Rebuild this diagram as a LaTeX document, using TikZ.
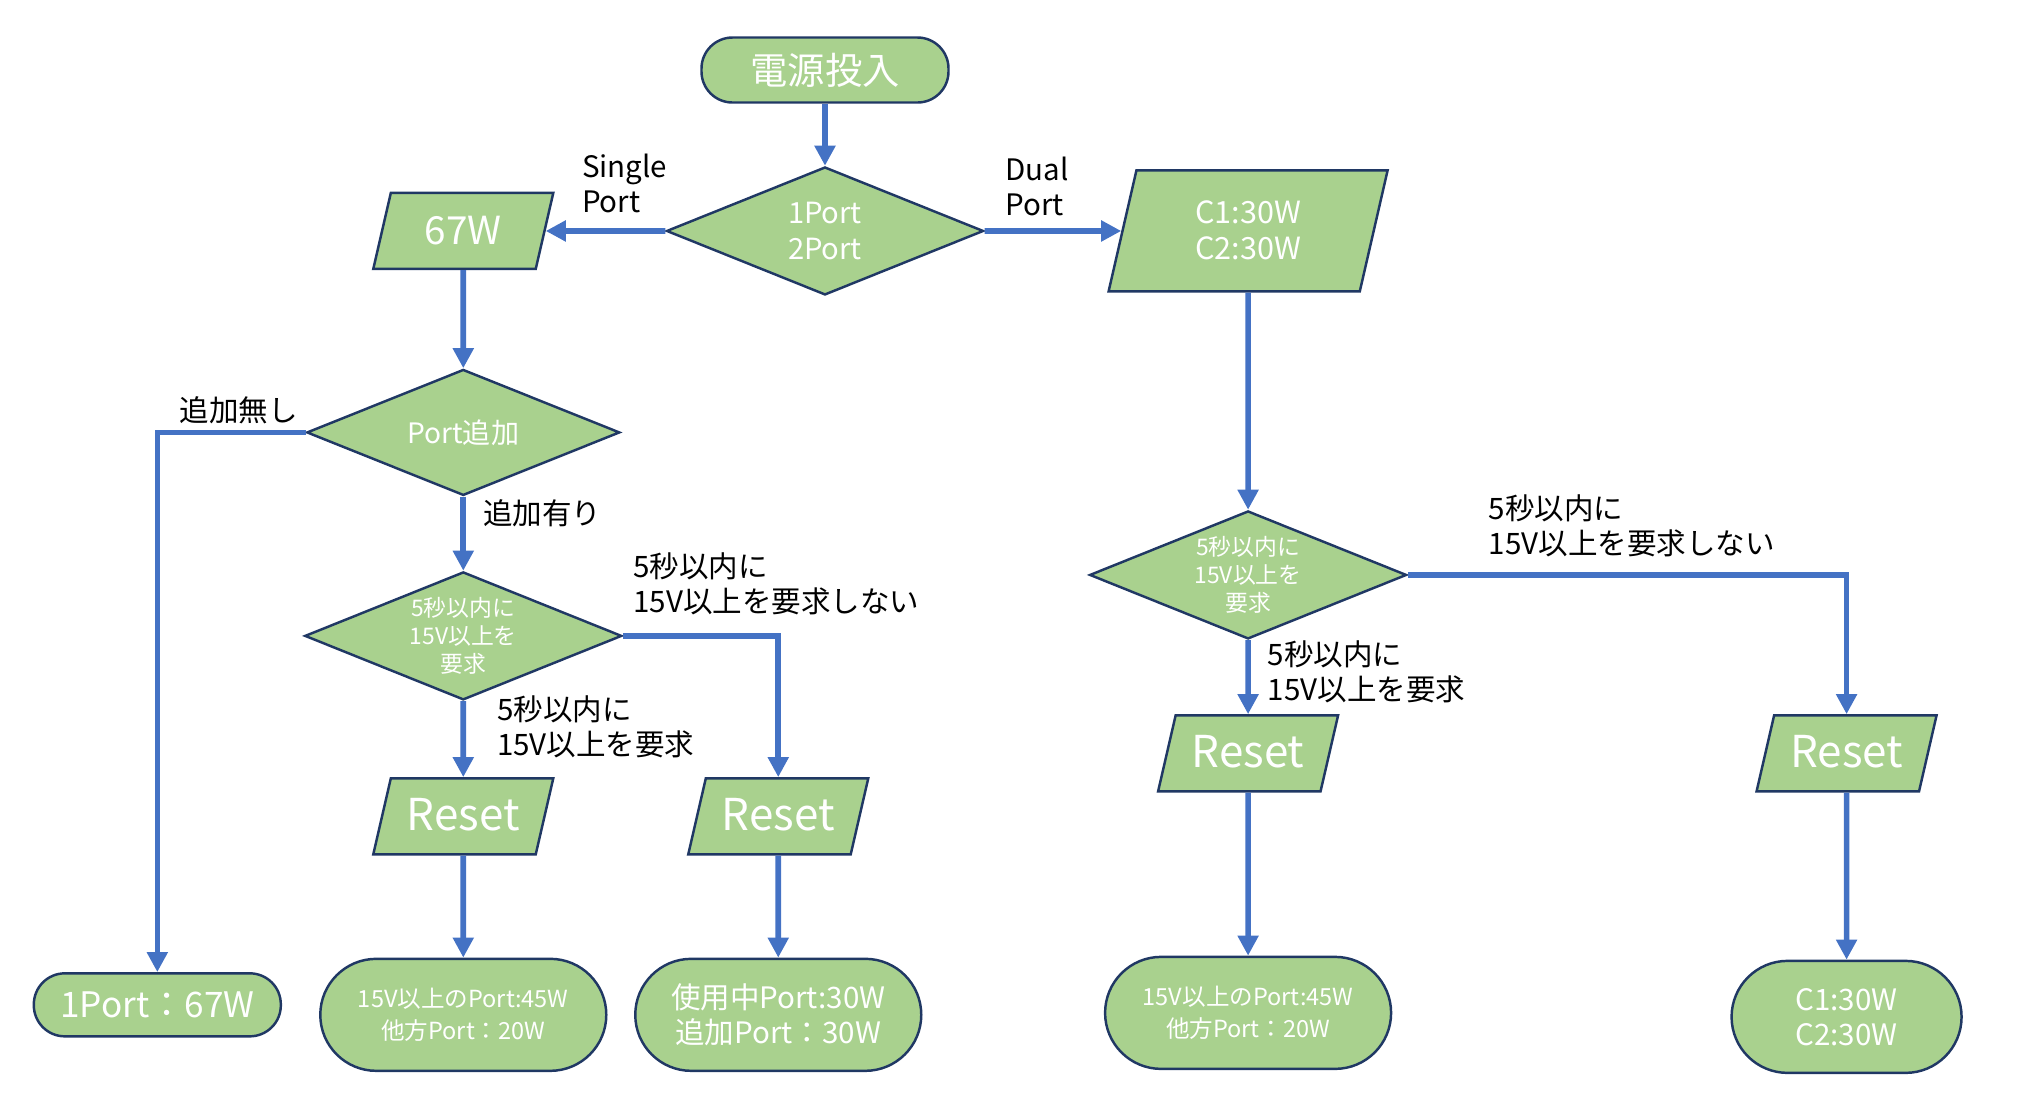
\documentclass[tikz,border=0pt]{standalone}
\usepackage{fontspec}
\setmainfont{Noto Sans CJK JP}
\usepackage{tikz}
\usetikzlibrary{shapes.geometric, arrows.meta, positioning}
\definecolor{leaf}{HTML}{A9D18E}
\definecolor{navy}{HTML}{203864}
\definecolor{flow}{HTML}{4472C4}

\begin{document}
\begin{tikzpicture}[node distance=1cm, auto,
        term/.style={draw=navy, line width=0.7pt, fill=leaf, rectangle, rounded corners=0.31cm, text=white, align=center, inner sep=0pt},
        decision/.style={draw=navy, line width=0.7pt, fill=leaf, diamond, aspect=2.5, minimum width=3.17cm, minimum height=1.28cm, text=white, align=center, inner sep=0pt},
        io/.style={draw=navy, line width=0.7pt, fill=leaf, trapezium, trapezium left angle=77, trapezium right angle=103, trapezium stretches body, minimum width=1.8cm, minimum height=0.76cm, text=white, align=center, inner xsep=0pt, inner ysep=0.24cm, text height=0.28cm, text depth=0cm, font=\fontsize{11pt}{13pt}\selectfont},
        resetbox/.style={io, font=\fontsize{12.5pt}{14pt}\selectfont},
        lbl/.style={inner sep=0pt, align=left, text=black, font=\fontsize{8.4pt}{10pt}\selectfont},
        line/.style={draw=flow, line width=1.6pt, -{Triangle[length=0.2cm, width=0.2cm]}}]

        \useasboundingbox (0,0) rectangle (20.43,-11.10);

        % ノード定義
        \node [term, minimum width=2.47cm, minimum height=0.65cm, font=\fontsize{10.6pt}{12pt}\selectfont] (start) at (8.25,-0.70) {電源投入};
        \node [decision, below=0.62cm of start, font=\fontsize{8.3pt}{10pt}\selectfont] (ports) {1Port\\2Port};
        \node [io, left=1.195cm of ports] (single) {67W};
        \node [io, right=1.365cm of ports, minimum width=2.79cm, minimum height=1.21cm, text height=0.565cm, inner ysep=0.32cm, font=\fontsize{8.7pt}{10.3pt}\selectfont] (dual) {C1:30W\\C2:30W};

        \node [decision, below=0.98cm of single, minimum width=3.13cm, minimum height=1.26cm, font=\fontsize{8pt}{10pt}\selectfont] (addport) {Port追加};
        \node [decision, below=0.74cm of addport, font=\fontsize{6.5pt}{8pt}\selectfont] (reqA) {5秒以内に\\15V以上を\\要求};
        \node [resetbox, below=0.76cm of reqA] (resetA) {Reset};
        \node [resetbox, right=1.50cm of resetA] (resetB) {Reset};
        \node [term, below=1.02cm of resetA, minimum width=2.86cm, minimum height=1.12cm, rounded corners=0.56cm, font=\fontsize{6.7pt}{9pt}\selectfont] (outA) {15V以上のPort:45W\\他方Port：20W};
        \node [term, below=1.02cm of resetB, minimum width=2.86cm, minimum height=1.12cm, rounded corners=0.56cm, font=\fontsize{8.4pt}{10pt}\selectfont] (outB) {使用中Port:30W\\追加Port：30W};
        \node [term, left=0.37cm of outA, yshift=0.1cm, minimum width=2.47cm, minimum height=0.63cm, font=\fontsize{10pt}{12pt}\selectfont] (outSingle) {1Port：67W};

        \node [decision, below=2.17cm of dual, font=\fontsize{6.5pt}{8pt}\selectfont] (reqB) {5秒以内に\\15V以上を\\要求};
        \node [resetbox, below=0.74cm of reqB] (resetC) {Reset};
        \node [resetbox, right=4.335cm of resetC] (resetD) {Reset};
        \node [term, below=1.63cm of resetC, minimum width=2.86cm, minimum height=1.12cm, rounded corners=0.56cm, font=\fontsize{6.7pt}{9pt}\selectfont] (outC) {15V以上のPort:45W\\他方Port：20W};
        \node [term, below=1.67cm of resetD, minimum width=2.30cm, minimum height=1.12cm, rounded corners=0.56cm, font=\fontsize{8.4pt}{10pt}\selectfont] (outD) {C1:30W\\C2:30W};

        % 接続線
        \path [line] (start) -- (ports);
        \path [line] (ports) -- node [lbl, pos=0.72, anchor=south west, yshift=0.15cm] {Single\\Port} (single);
        \path [line] (ports) -- node [lbl, pos=0.13, anchor=south west, yshift=0.12cm] {Dual\\Port} (dual);
        \path [line] (single) -- (addport);
        \path [line] (addport.west) -| node [lbl, pos=0.226, anchor=south, yshift=0.06cm] {追加無し} (outSingle);
        \path [line] (addport) -- node [lbl, pos=0.23, anchor=west, xshift=0.17cm] {追加有り} (reqA);
        \path [line] (reqA) -- node [lbl, pos=0.335, anchor=west, xshift=0.31cm] {5秒以内に\\15V以上を要求} (resetA);
        \path [line] (reqA.east) -| node [lbl, pos=0.024, anchor=south west, yshift=0.18cm] {5秒以内に\\15V以上を要求しない} (resetB);
        \path [line] (resetA) -- (outA);
        \path [line] (resetB) -- (outB);
        \path [line] (dual) -- (reqB);
        \path [line] (reqB) -- node [lbl, pos=0.43, anchor=west, xshift=0.17cm] {5秒以内に\\15V以上を要求} (resetC);
        \path [line] (reqB.east) -| node [lbl, pos=0.089, anchor=south west, yshift=0.15cm] {5秒以内に\\15V以上を要求しない} (resetD);
        \path [line] (resetC) -- (outC);
        \path [line] (resetD) -- (outD);
    \end{tikzpicture}
\end{document}
